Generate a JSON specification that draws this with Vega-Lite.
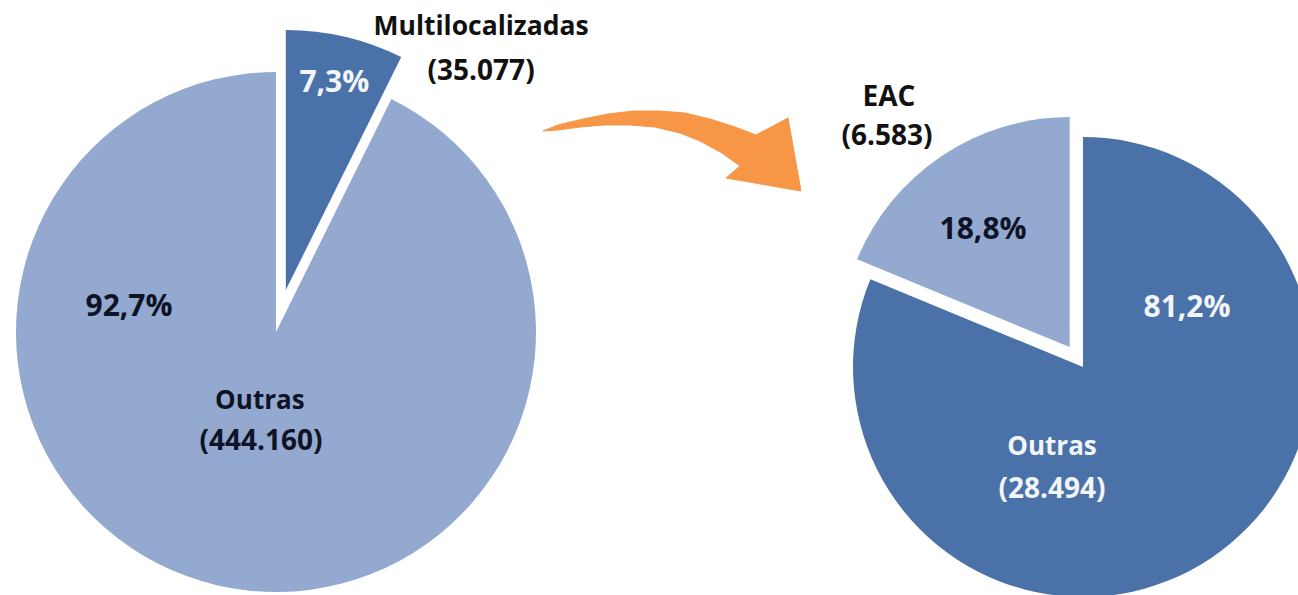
{
  "$schema": "https://vega.github.io/schema/vega-lite/v6.json",
  "padding": 0,
  "spacing": 0,
  "bounds": "flush",
  "background": "white",
  "config": {
    "view": {"stroke": null},
    "text": {"font": "Open Sans", "fontWeight": "bold", "fontSize": 26, "baseline": "middle", "align": "center"}
  },
  "hconcat": [
    {
      "width": 552,
      "height": 595,
      "data": {"values": [
        {"cat": "Multilocalizadas", "value": 35077, "pct": "7,3%", "count": "(35.077)"},
        {"cat": "Outras", "value": 444160, "pct": "92,7%", "count": "(444.160)"}
      ]},
      "encoding": {
        "theta": {"field": "value", "type": "quantitative", "stack": true},
        "order": {"field": "cat", "type": "ordinal", "sort": "ascending"}
      },
      "layer": [
        {
          "mark": {"type": "arc", "outerRadius": 260, "yOffset": 34.5, "fill": "#93A9D0"},
          "encoding": {"opacity": {"condition": {"test": "datum.cat === 'Outras'", "value": 1}, "value": 0}}
        },
        {
          "mark": {"type": "arc", "outerRadius": 260, "xOffset": 9.8, "yOffset": -7.4, "fill": "#4A72A8"},
          "encoding": {"opacity": {"condition": {"test": "datum.cat === 'Multilocalizadas'", "value": 1}, "value": 0}}
        },
        {
          "mark": {"type": "text", "radius": 213, "xOffset": 9.8, "yOffset": -7.4, "color": "#F2F5F9", "fontSize": 30},
          "encoding": {"text": {"condition": {"test": "datum.cat === 'Multilocalizadas'", "field": "pct", "type": "nominal"}, "value": ""}}
        },
        {
          "mark": {"type": "text", "radius": 327.6, "thetaOffset": 0.4088, "xOffset": 9.8, "yOffset": -7.4, "color": "#111111", "fontSize": 26.5},
          "encoding": {"text": {"condition": {"test": "datum.cat === 'Multilocalizadas'", "field": "cat", "type": "nominal"}, "value": ""}}
        },
        {
          "mark": {"type": "text", "radius": 292.7, "thetaOffset": 0.5006, "xOffset": 9.8, "yOffset": -7.4, "color": "#111111", "fontSize": 28},
          "encoding": {"text": {"condition": {"test": "datum.cat === 'Multilocalizadas'", "field": "count", "type": "nominal"}, "value": ""}}
        },
        {
          "mark": {"type": "text", "radius": 149.1, "thetaOffset": 1.5094, "yOffset": 34.5, "color": "#0E1326", "fontSize": 30},
          "encoding": {"text": {"condition": {"test": "datum.cat === 'Outras'", "field": "pct", "type": "nominal"}, "value": ""}}
        },
        {
          "mark": {"type": "text", "radius": 70.8, "yOffset": 34.5, "color": "#0E1326", "fontSize": 26},
          "encoding": {"text": {"condition": {"test": "datum.cat === 'Outras'", "field": "cat", "type": "nominal"}, "value": ""}}
        },
        {
          "mark": {"type": "text", "radius": 111, "thetaOffset": -0.094, "yOffset": 34.5, "color": "#0E1326", "fontSize": 28},
          "encoding": {"text": {"condition": {"test": "datum.cat === 'Outras'", "field": "count", "type": "nominal"}, "value": ""}}
        }
      ]
    },
    {
      "width": 316,
      "height": 595,
      "data": {"values": [
        {"i": 1, "u": 543, "v": 131},
        {"i": 2, "u": 558, "v": 125},
        {"i": 3, "u": 583, "v": 119},
        {"i": 4, "u": 608, "v": 114},
        {"i": 5, "u": 634, "v": 111},
        {"i": 6, "u": 660, "v": 111},
        {"i": 7, "u": 685, "v": 113},
        {"i": 8, "u": 710, "v": 119},
        {"i": 9, "u": 735, "v": 127},
        {"i": 10, "u": 756, "v": 135},
        {"i": 11, "u": 788, "v": 118},
        {"i": 12, "u": 801, "v": 191},
        {"i": 13, "u": 726, "v": 178},
        {"i": 14, "u": 740, "v": 166},
        {"i": 15, "u": 722, "v": 153},
        {"i": 16, "u": 700, "v": 141},
        {"i": 17, "u": 680, "v": 133},
        {"i": 18, "u": 655, "v": 127},
        {"i": 19, "u": 630, "v": 125},
        {"i": 20, "u": 605, "v": 125},
        {"i": 21, "u": 580, "v": 127},
        {"i": 22, "u": 558, "v": 130}
      ]},
      "mark": {"type": "line", "interpolate": "linear-closed", "filled": true, "fill": "#F79646", "stroke": "#F79646", "strokeWidth": 1},
      "encoding": {
        "x": {"field": "u", "type": "quantitative", "scale": {"domain": [552, 868], "zero": false, "nice": false}, "axis": null},
        "y": {"field": "v", "type": "quantitative", "scale": {"domain": [0, 595], "reverse": true, "zero": false, "nice": false}, "axis": null},
        "order": {"field": "i", "type": "quantitative"}
      }
    },
    {
      "width": 430,
      "height": 595,
      "data": {"values": [
        {"cat": "Outras", "value": 28494, "pct": "81,2%", "count": "(28.494)"},
        {"cat": "EAC", "value": 6583, "pct": "18,8%", "count": "(6.583)"}
      ]},
      "encoding": {
        "theta": {"field": "value", "type": "quantitative", "stack": true},
        "order": {"field": "cat", "type": "ordinal", "sort": "descending"}
      },
      "layer": [
        {
          "mark": {"type": "arc", "outerRadius": 230, "yOffset": 69.5, "fill": "#4A72A8"},
          "encoding": {"opacity": {"condition": {"test": "datum.cat === 'Outras'", "value": 1}, "value": 0}}
        },
        {
          "mark": {"type": "arc", "outerRadius": 230, "xOffset": -13.34, "yOffset": 49.55, "fill": "#93A9D0"},
          "encoding": {"opacity": {"condition": {"test": "datum.cat === 'EAC'", "value": 1}, "value": 0}}
        },
        {
          "mark": {"type": "text", "radius": 307.7, "thetaOffset": -0.038, "xOffset": -13.34, "yOffset": 49.55, "color": "#111111", "fontSize": 28},
          "encoding": {"text": {"condition": {"test": "datum.cat === 'EAC'", "field": "cat", "type": "nominal"}, "value": ""}}
        },
        {
          "mark": {"type": "text", "radius": 278.4, "thetaOffset": -0.126, "xOffset": -13.34, "yOffset": 49.55, "color": "#111111", "fontSize": 28},
          "encoding": {"text": {"condition": {"test": "datum.cat === 'EAC'", "field": "count", "type": "nominal"}, "value": ""}}
        },
        {
          "mark": {"type": "text", "radius": 145.6, "thetaOffset": -0.0475, "xOffset": -13.34, "yOffset": 49.55, "color": "#0E1326", "fontSize": 30},
          "encoding": {"text": {"condition": {"test": "datum.cat === 'EAC'", "field": "pct", "type": "nominal"}, "value": ""}}
        },
        {
          "mark": {"type": "text", "radius": 119.6, "thetaOffset": -1.4973, "yOffset": 69.5, "color": "#F2F5F9", "fontSize": 30},
          "encoding": {"text": {"condition": {"test": "datum.cat === 'Outras'", "field": "pct", "type": "nominal"}, "value": ""}}
        },
        {
          "mark": {"type": "text", "radius": 85.8, "thetaOffset": 0.9592, "yOffset": 69.5, "color": "#F2F5F9", "fontSize": 26},
          "encoding": {"text": {"condition": {"test": "datum.cat === 'Outras'", "field": "cat", "type": "nominal"}, "value": ""}}
        },
        {
          "mark": {"type": "text", "radius": 126.8, "thetaOffset": 0.8365, "yOffset": 69.5, "color": "#F2F5F9", "fontSize": 28},
          "encoding": {"text": {"condition": {"test": "datum.cat === 'Outras'", "field": "count", "type": "nominal"}, "value": ""}}
        }
      ]
    }
  ]
}
